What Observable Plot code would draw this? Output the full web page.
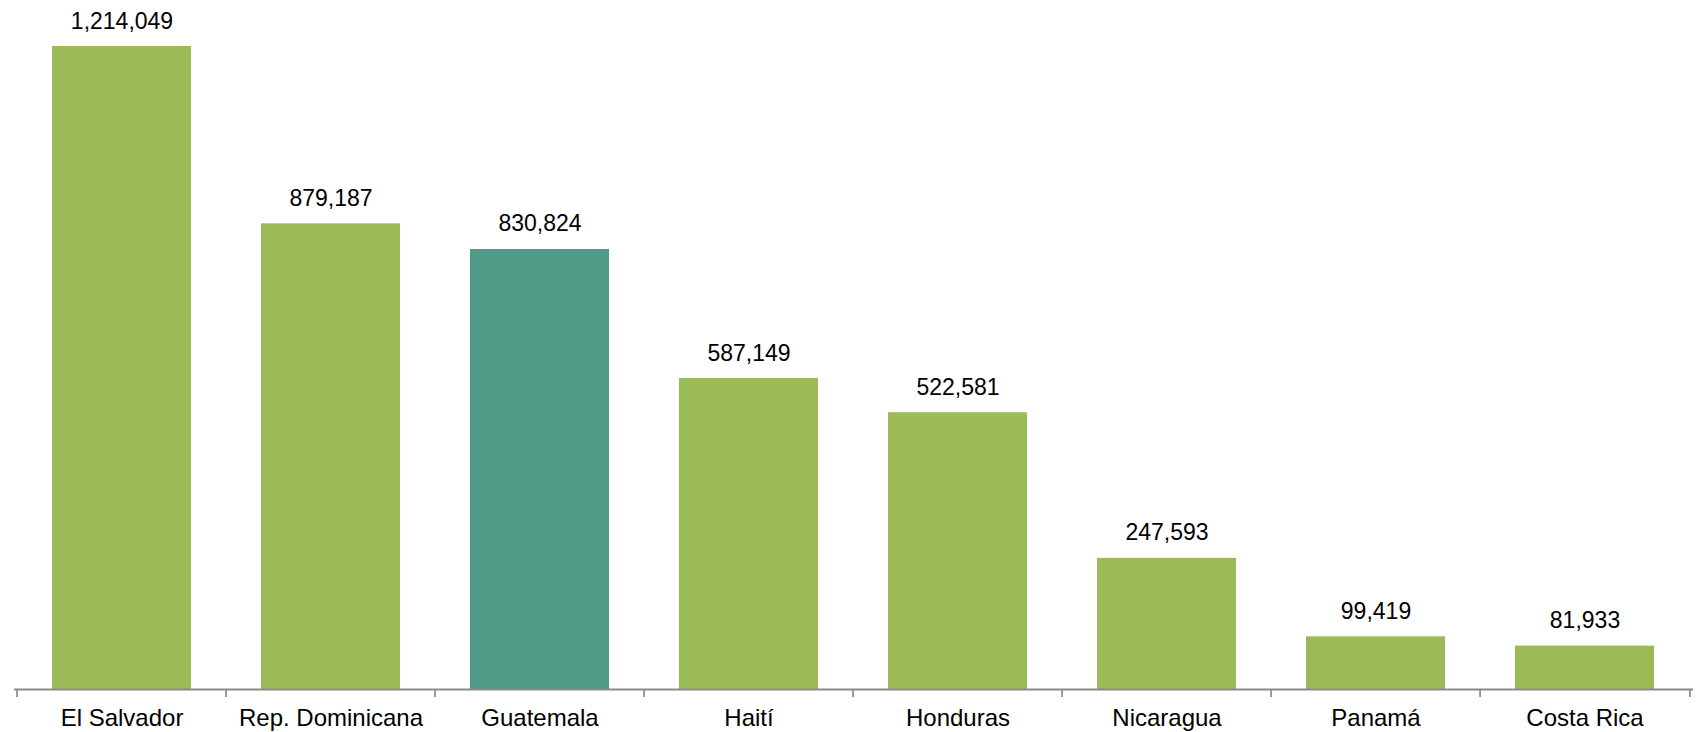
<!DOCTYPE html>
<html>
<head>
<meta charset="utf-8">
<script src="https://cdn.jsdelivr.net/npm/d3@7"></script>
<script src="https://cdn.jsdelivr.net/npm/@observablehq/plot@0.6"></script>
<style>
  html, body { margin: 0; padding: 0; background: #fff; overflow: hidden; }
  #chart svg { display: block; }
</style>
</head>
<body>
<div id="chart"></div>
<script>
const categories = ["El Salvador", "Rep. Dominicana", "Guatemala", "Haití", "Honduras", "Nicaragua", "Panamá", "Costa Rica"];
const values = [1214049, 879187, 830824, 587149, 522581, 247593, 99419, 81933];
const highlight = "Guatemala";

const data = categories.map((c, i) => ({country: c, value: values[i]}));

const width = 1697, height = 732;
const marginLeft = 14, marginRight = 4, marginTop = 46, marginBottom = 43;
const step = (width - marginLeft - marginRight) / categories.length;
const maxV = d3.max(values);
const tickLen = 8 / (height - marginTop - marginBottom) * maxV;
const font = "'Liberation Sans', Arial, Helvetica, sans-serif";

const chart = Plot.plot({
  width, height, marginLeft, marginRight, marginTop, marginBottom,
  style: {fontFamily: font, fontSize: "24px", color: "#000", background: "#fff", overflow: "visible"},
  x: {domain: categories, paddingInner: 0.333, paddingOuter: 0.1665, label: null},
  y: {domain: [0, maxV], axis: null},
  marks: [
    Plot.barY(data, {x: "country", y: "value", fill: d => d.country === highlight ? "#4F9B87" : "#9BBB59"}),
    Plot.text(data, {x: "country", y: "value", text: d => d3.format(",")(d.value), lineAnchor: "bottom", dy: -18, fontSize: 23, fill: "#000"}),
    Plot.ruleY([0], {stroke: "#8a8a8a", strokeWidth: 2}),
    Plot.ruleX(categories, {x: d => d, y1: 0, y2: -tickLen, dx: -step / 2, stroke: "#8a8a8a", strokeWidth: 1.7}),
    Plot.ruleX(categories.slice(-1), {x: d => d, y1: 0, y2: -tickLen, dx: step / 2, stroke: "#8a8a8a", strokeWidth: 1.7}),
    Plot.axisX({tickSize: 0, tickPadding: 19, fontSize: 24, fill: "#000", label: null})
  ]
});
document.getElementById("chart").appendChild(chart);
</script>
</body>
</html>
